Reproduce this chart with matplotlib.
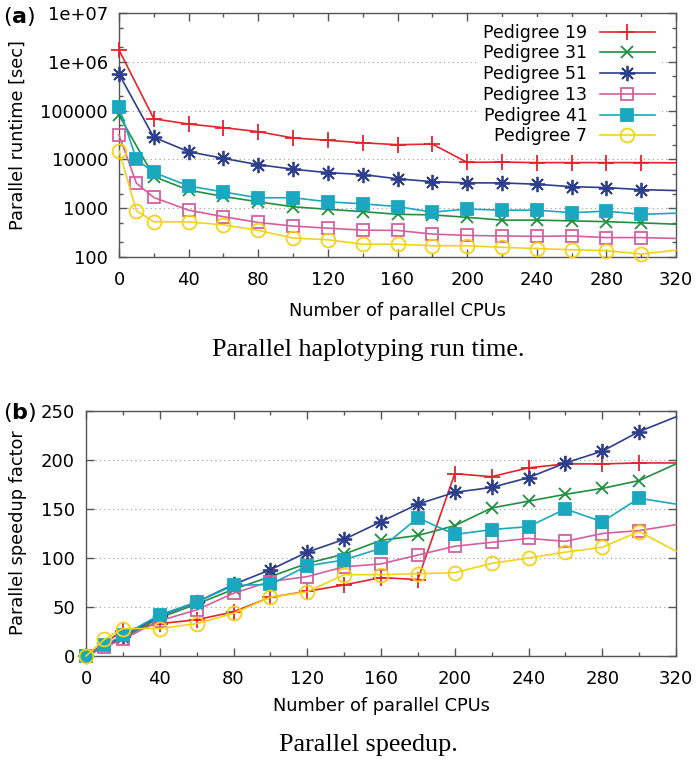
import matplotlib
matplotlib.use('Agg')
import matplotlib.pyplot as plt
from matplotlib.ticker import LogLocator, MultipleLocator, FixedLocator, FixedFormatter, NullFormatter

# x values (red/green/blue have no 10-CPU run)
cpus_a = [0, 20, 40, 60, 80, 100, 120, 140, 160, 180, 200, 220, 240, 260, 280, 300, 320]
cpus_b = [0, 10, 20, 40, 60, 80, 100, 120, 140, 160, 180, 200, 220, 240, 260, 280, 300, 320]

names = ['Pedigree 19', 'Pedigree 31', 'Pedigree 51', 'Pedigree 13', 'Pedigree 41', 'Pedigree 7']

# runtimes [sec]
rt_19 = [1.75e6, 68000, 53000, 44700, 37000, 27500, 24600, 21900, 20000, 20600, 8700, 8800, 8600, 8600, 8600, 8600, 8500]
rt_31 = [81000, 4450, 2350, 1740, 1350, 1070, 950, 850, 750, 730, 650, 570, 570, 550, 530, 500, 470]
rt_51 = [560000, 28400, 14400, 10500, 7800, 6300, 5350, 4900, 4000, 3500, 3300, 3300, 3100, 2760, 2640, 2400, 2300]
rt_13 = [31600, 3250, 1660, 910, 670, 510, 430, 390, 355, 350, 295, 277, 270, 265, 270, 250, 250, 240]
rt_41 = [120000, 10000, 5400, 2850, 2150, 1630, 1640, 1350, 1230, 1080, 830, 960, 910, 910, 810, 870, 750, 790]
rt_7 = [15000, 890, 525, 525, 455, 350, 245, 225, 183, 183, 170, 170, 158, 149, 141, 135, 115, 138]

# speedup factors
sp_19 = [0, 26, 33, 37, 45, 60, 66, 72.5, 80, 78, 186, 183, 192, 196, 196, 197, 197]
sp_31 = [0, 18, 39, 53, 68, 81, 94.5, 104, 118, 123, 133, 151, 158, 165, 171, 179, 196]
sp_51 = [0, 20, 41, 55, 73, 88, 106, 119, 137, 155, 167, 172, 182, 197, 209, 229, 244]
sp_13 = [0, 9, 17, 36, 47, 64, 76, 81, 91, 94, 103, 112, 116, 120, 117, 125, 128, 134]
sp_41 = [0, 11, 21, 42, 55, 72, 73, 92, 98, 110, 141, 124, 129, 132, 150, 137, 161, 155]
sp_7 = [0, 17, 28, 28, 33, 43.5, 60, 65.5, 83, 83, 84, 85, 94.5, 100, 106, 111, 127, 107]

colors = ['#e3242b', '#1f8f3f', '#2c3e8c', '#d2609e', '#1aa7c0', '#f4d21c']
markers = ['+', 'x', (8, 2, 0), 's', 's', 'o']
fills = ['full', 'full', 'full', 'none', 'full', 'none']
msizes = [11, 9, 11, 9, 9, 10]

W, H = 700, 767
fig = plt.figure(figsize=(7, 7.67), dpi=100)
spine_col = '#555555'


def px(x0, y0, x1, y1):
    return [x0 / W, 1 - y1 / H, (x1 - x0) / W, (y1 - y0) / H]


def style_axes(ax):
    for s in ax.spines.values():
        s.set_color(spine_col)
        s.set_linewidth(1.0)
    ax.tick_params(which='both', direction='in', top=True, right=True,
                   color=spine_col, labelsize=13, width=1.0)
    ax.tick_params(which='major', length=6)
    ax.tick_params(which='minor', length=3)
    ax.tick_params(axis='x', pad=10)
    ax.tick_params(axis='y', pad=8)


def draw(ax, xs_list, ys_list):
    for i in range(6):
        xs = xs_list[i]
        ys = ys_list[i]
        ax.plot(xs, ys, color=colors[i], lw=1.2, marker=markers[i],
                ms=msizes[i], mew=1.3, fillstyle=fills[i],
                markevery=list(range(len(xs) - 1)), label=names[i],
                clip_on=False, zorder=3)


x_sets = [cpus_a, cpus_a, cpus_a, cpus_b, cpus_b, cpus_b]

# ---- (a) runtime
ax1 = fig.add_axes(px(119, 13, 676, 257))
draw(ax1, x_sets, [rt_19, rt_31, rt_51, rt_13, rt_41, rt_7])
ax1.set_yscale('log')
ax1.set_xlim(0, 320)
ax1.set_ylim(100, 1e7)
ax1.xaxis.set_major_locator(MultipleLocator(40))
ax1.xaxis.set_minor_locator(MultipleLocator(20))
ax1.yaxis.set_major_locator(FixedLocator([1e2, 1e3, 1e4, 1e5, 1e6, 1e7]))
ax1.yaxis.set_major_formatter(FixedFormatter(['100', '1000', '10000', '100000', '1e+06', '1e+07']))
ax1.yaxis.set_minor_locator(LogLocator(subs=[2, 5]))
ax1.yaxis.set_minor_formatter(NullFormatter())
ax1.grid(axis='y', which='major', color='#999999', lw=0.8, ls=(0, (1, 3)))
style_axes(ax1)
leg = ax1.legend(loc='upper right', bbox_to_anchor=(0.975, 0.985), markerfirst=False,
                 handlelength=3.2, handletextpad=0.7, labelspacing=0.16,
                 borderpad=0.4, borderaxespad=0, fontsize=12.5, frameon=True,
                 fancybox=False, edgecolor='none', facecolor='white', framealpha=1)
leg.set_zorder(5)

# ---- (b) speedup
ax2 = fig.add_axes(px(86, 411, 676, 656))
draw(ax2, x_sets, [sp_19, sp_31, sp_51, sp_13, sp_41, sp_7])
ax2.set_xlim(0, 320)
ax2.set_ylim(0, 250)
ax2.xaxis.set_major_locator(MultipleLocator(40))
ax2.xaxis.set_minor_locator(MultipleLocator(20))
ax2.yaxis.set_major_locator(MultipleLocator(50))
ax2.grid(axis='y', which='major', color='#999999', lw=0.8, ls=(0, (1, 3)))
style_axes(ax2)

# labels
fig.text(18 / W, 1 - 135 / H, 'Parallel runtime [sec]', rotation=90,
         ha='center', va='center', fontsize=12.8)
fig.text(18 / W, 1 - 533 / H, 'Parallel speedup factor', rotation=90,
         ha='center', va='center', fontsize=12.8)
fig.text(397 / W, 1 - 311 / H, 'Number of parallel CPUs', ha='center', va='center', fontsize=12.8)
fig.text(381 / W, 1 - 706 / H, 'Number of parallel CPUs', ha='center', va='center', fontsize=12.8)
fig.text(368 / W, 1 - 350 / H, 'Parallel haplotyping run time.', ha='center', va='center',
         fontsize=18.8, family='Liberation Serif')
fig.text(368 / W, 1 - 745 / H, 'Parallel speedup.', ha='center', va='center',
         fontsize=18.8, family='Liberation Serif')
fig.text(3 / W, 1 - 17 / H, r'($\mathbf{a}$)', ha='left', va='center', fontsize=16)
fig.text(3 / W, 1 - 413 / H, r'($\mathbf{b}$)', ha='left', va='center', fontsize=16)

fig.savefig('out.png', dpi=100)
